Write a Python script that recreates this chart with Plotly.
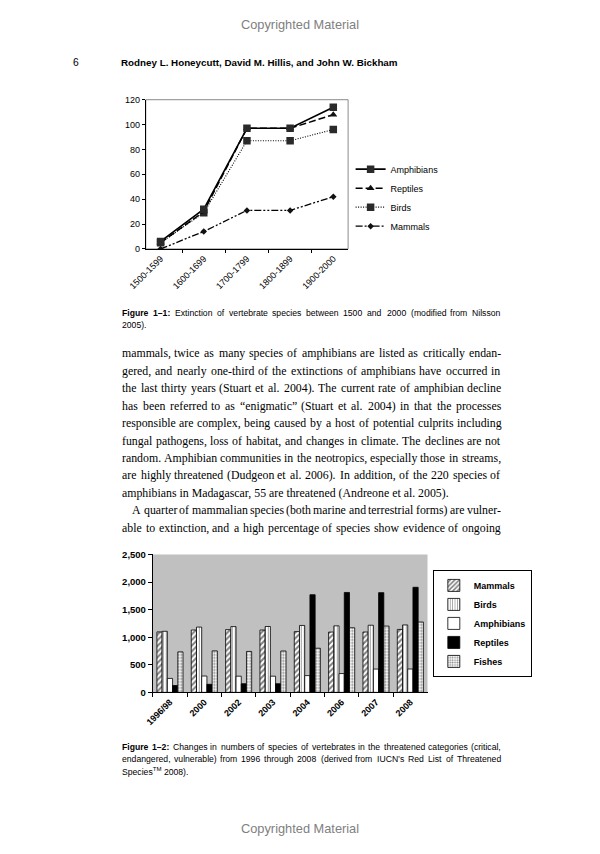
import plotly.graph_objects as go

W, H = 600, 854

# ---------------- data: Figure 1-1 ----------------
periods = ["1500-1599", "1600-1699", "1700-1799", "1800-1899", "1900-2000"]
amphibians_ext = [6, 32, 97, 97, 114]
reptiles_ext = [5, 30, 97, 97, 108]
birds_ext = [5, 29, 87, 87, 96]
mammals_ext = [0, 14, 31, 31, 42]

# ---------------- data: Figure 1-2 ----------------
years = ["1996/98", "2000", "2002", "2003", "2004", "2006", "2007", "2008"]
mammals_thr = [1096, 1130, 1137, 1130, 1101, 1093, 1094, 1141]
birds_thr = [1107, 1183, 1192, 1194, 1213, 1206, 1217, 1222]
amphibians_thr = [253, 296, 293, 293, 304, 341, 422, 423]
reptiles_thr = [124, 146, 157, 157, 1770, 1811, 1808, 1905]
fishes_thr = [734, 752, 742, 750, 800, 1171, 1201, 1275]

# ---------------- page text ----------------
header_text = "Rodney L. Honeycutt, David M. Hillis, and John W. Bickham"
caption1 = ["Figure 1–1: Extinction of vertebrate species between 1500 and 2000 (modified from Nilsson",
            "2005)."]
body_lines = [
    "mammals, twice as many species of amphibians are listed as critically endan-",
    "gered, and nearly one-third of the extinctions of amphibians have occurred in",
    "the last thirty years (Stuart et al. 2004). The current rate of amphibian decline",
    "has been referred to as “enigmatic” (Stuart et al. 2004) in that the processes",
    "responsible are complex, being caused by a host of potential culprits including",
    "fungal pathogens, loss of habitat, and changes in climate. The declines are not",
    "random. Amphibian communities in the neotropics, especially those in streams,",
    "are highly threatened (Dudgeon et al. 2006). In addition, of the 220 species of",
    "amphibians in Madagascar, 55 are threatened (Andreone et al. 2005).",
    "A quarter of mammalian species (both marine and terrestrial forms) are vulner-",
    "able to extinction, and a high percentage of species show evidence of ongoing",
]
caption2 = ["Figure 1–2: Changes in numbers of species of vertebrates in the threatened categories (critical,",
            "endangered, vulnerable) from 1996 through 2008 (derived from IUCN’s Red List of Threatened",
            "Species<sup>TM</sup> 2008)."]

# page-position -> figure-pixel mapping (measured from a calibration render)
SX, SY = 0.9675, 0.9877
FS = 1.03  # font compensation for the same scale


def gx(x):
    return 100 + (x - 115) / SX


def gy(y):
    return 100 + (y - 104) / SY


def px(x):
    return gx(x) / W


def py(y):
    return 1 - gy(y) / H


# ---------------- approximate font metrics (per 1000 em) ----------------
LOW = "abcdefghijklmnopqrstuvwxyz"
UP = "ABCDEFGHIJKLMNOPQRSTUVWXYZ"
TIMES = dict(zip(LOW, [444, 500, 444, 500, 444, 333, 500, 500, 278, 278, 500, 278, 778, 500, 500, 500, 500, 333, 389, 278, 500, 500, 722, 500, 500, 444]))
TIMES.update(zip(UP, [722, 667, 667, 722, 611, 556, 722, 722, 333, 389, 722, 611, 889, 722, 722, 556, 722, 667, 556, 611, 722, 722, 944, 722, 722, 611]))
TIMES.update({c: 500 for c in "0123456789"})
TIMES.update({" ": 250, ",": 250, ".": 250, "-": 333, "(": 333, ")": 333, ":": 278, ";": 278, "“": 444, "”": 444, "’": 333, "–": 500})

ARIAL = dict(zip(LOW, [556, 556, 500, 556, 556, 278, 556, 556, 222, 222, 500, 222, 833, 556, 556, 556, 556, 333, 500, 278, 556, 500, 722, 500, 500, 500]))
ARIAL.update(zip(UP, [667, 667, 722, 722, 667, 611, 778, 722, 278, 500, 667, 556, 833, 722, 778, 667, 778, 722, 667, 611, 722, 667, 944, 667, 667, 611]))
ARIAL.update({c: 556 for c in "0123456789"})
ARIAL.update({" ": 278, ",": 278, ".": 278, "-": 333, "(": 333, ")": 333, ":": 278, "’": 222, "–": 556})

ARIAL_B = dict(zip(LOW, [556, 611, 556, 611, 556, 333, 611, 611, 278, 278, 556, 278, 889, 611, 611, 611, 611, 389, 556, 333, 611, 556, 778, 556, 556, 500]))
ARIAL_B.update(zip(UP, [722, 722, 722, 722, 667, 611, 778, 722, 278, 556, 722, 611, 833, 722, 778, 667, 778, 722, 667, 611, 722, 667, 944, 667, 667, 611]))
ARIAL_B.update({c: 556 for c in "0123456789"})
ARIAL_B.update({" ": 278, ",": 278, ".": 278, "-": 333, ":": 333, "–": 556})


def tw(s, table, size):
    return sum(table.get(ch, 520) for ch in s) * size / 1000.0


SERIF = "Liberation Serif, Times New Roman, serif"
SANS = "Liberation Sans, Arial, sans-serif"

annotations = []


def ann(x, y, text, size, family=SANS, color="black", xanchor="left"):
    # x, y in figure pixels
    annotations.append(dict(x=x / W, y=1 - y / H, xref="paper", yref="paper", text=text,
                            showarrow=False, xanchor=xanchor, yanchor="middle", borderpad=0,
                            font=dict(family=family, size=size, color=color)))


def justified(tokens, x0, x1, y, size, family, table, btable=None):
    widths = [tw(w, btable if b else table, size) for w, b in tokens]
    gap = (x1 - x0 - sum(widths)) / (len(tokens) - 1)
    gap = max(gap, 0.2 * size)
    x = x0
    for (w, b), wd in zip(tokens, widths):
        ann(x, y, f"<b>{w}</b>" if b else w, size, family)
        x += wd + gap


LEFT, RIGHT = gx(121), gx(498)

# page furniture
ann(gx(300), gy(24), "Copyrighted Material", 12.8, color="#808080", xanchor="center")
ann(gx(72), gy(62), "6", 10 * FS)
ann(gx(120), gy(62), f"<b>{header_text}</b>", 9.8)

# caption 1
cap_size = 8.4 * FS
toks = [(w, i < 2) for i, w in enumerate(caption1[0].split(" "))]
justified(toks, LEFT, RIGHT, gy(312), cap_size, SANS, ARIAL, ARIAL_B)
ann(LEFT, gy(324), caption1[1], cap_size)

# body text
body_size = 11.5 * FS
for i, line in enumerate(body_lines):
    y = gy(352.5 + 17.5 * i)
    x0 = gx(131) if i == 9 else LEFT
    if i == 8:
        ann(x0, y, line, body_size, SERIF)
    else:
        justified([(w, False) for w in line.split(" ")], x0, RIGHT, y, body_size, SERIF, TIMES)

# caption 2
toks = [(w, i < 2) for i, w in enumerate(caption2[0].split(" "))]
justified(toks, LEFT, RIGHT, gy(747), cap_size, SANS, ARIAL, ARIAL_B)
justified([(w, False) for w in caption2[1].split(" ")], LEFT, RIGHT, gy(759), cap_size, SANS, ARIAL)
ann(LEFT, gy(771), caption2[2], cap_size)

ann(gx(300), gy(828), "Copyrighted Material", 12.8, color="#808080", xanchor="center")

# ---------------- figure ----------------
fig = go.Figure()

# Figure 1-1 lines (drawn bottom to top; legend order by rank)
fig.add_trace(go.Scatter(x=periods, y=mammals_ext, name="Mammals", mode="lines+markers", legendrank=4,
                         line=dict(color="black", width=1.3, dash="7px,2px,2px,2px,2px,2px"),
                         marker=dict(symbol="diamond", size=5, color="#111")))
fig.add_trace(go.Scatter(x=periods, y=birds_ext, name="Birds", mode="lines+markers", legendrank=3,
                         line=dict(color="black", width=1.1, dash="1px,1.5px"),
                         marker=dict(symbol="square", size=7.5, color="#2a2a2a")))
fig.add_trace(go.Scatter(x=periods, y=reptiles_ext, name="Reptiles", mode="lines+markers", legendrank=2,
                         line=dict(color="black", width=1.5, dash="7px,3px"),
                         marker=dict(symbol="triangle-up", size=7, color="#111")))
fig.add_trace(go.Scatter(x=periods, y=amphibians_ext, name="Amphibians", mode="lines+markers", legendrank=1,
                         line=dict(color="black", width=1.6),
                         marker=dict(symbol="square", size=7.5, color="#2a2a2a")))

# Figure 1-2 bars
edge = dict(color="black", width=0.8)
bar_specs = [
    ("Mammals", mammals_thr, dict(color="white", line=edge,
                                  pattern=dict(shape="/", fgcolor="black", bgcolor="white", size=4, solidity=0.5))),
    ("Birds", birds_thr, dict(color="white", line=edge,
                              pattern=dict(shape="|", fgcolor="black", bgcolor="white", size=3, solidity=0.25))),
    ("Amphibians", amphibians_thr, dict(color="white", line=edge)),
    ("Reptiles", reptiles_thr, dict(color="black", line=edge)),
    ("Fishes", fishes_thr, dict(color="white", line=edge,
                                pattern=dict(shape=".", fgcolor="black", bgcolor="white", size=3, solidity=0.4))),
]
for name, vals, mk in bar_specs:
    fig.add_trace(go.Bar(x=years, y=vals, name=name, marker=mk, xaxis="x2", yaxis="y2", legend="legend2"))

axis_common = dict(showgrid=False, zeroline=False, showline=True, linecolor="black", linewidth=1,
                   ticks="outside", tickcolor="black", tickwidth=1)

fig.update_layout(
    width=W, height=H, autosize=False, margin=dict(l=0, r=0, t=0, b=0, pad=0),
    paper_bgcolor="white", plot_bgcolor="white",
    font=dict(family=SANS, color="black"),
    barmode="group", bargap=0.24, bargroupgap=0,
    xaxis=dict(domain=[px(145.7), px(347.5)], anchor="y", type="category", tickson="boundaries",
               ticklen=3, tickangle=-45, tickfont=dict(size=9), **axis_common),
    yaxis=dict(domain=[py(248.3), py(99)], anchor="x", range=[0, 120], dtick=20, ticklen=3,
               tickfont=dict(size=9), **axis_common),
    xaxis2=dict(domain=[px(152.7), px(426.7)], anchor="y2", type="category", tickson="boundaries",
                ticklen=4, tickangle=-45, tickfont=dict(size=9, weight="bold"), **axis_common),
    yaxis2=dict(domain=[py(692), py(554)], anchor="x2", range=[0, 2500], dtick=500, tickformat=",",
                ticklen=4, tickfont=dict(size=9.5, weight="bold"), **axis_common),
    legend=dict(x=px(350), xanchor="left", y=py(197), yanchor="middle", font=dict(size=9),
                bgcolor="rgba(0,0,0,0)", borderwidth=0, itemwidth=30, tracegroupgap=0),
    legend2=dict(x=px(432), xanchor="left", y=py(623), yanchor="middle", font=dict(size=9, weight="bold"),
                 bgcolor="white", bordercolor="black", borderwidth=1, itemwidth=30, tracegroupgap=0),
    shapes=[
        dict(type="rect", xref="x domain", yref="y domain", x0=0, x1=1, y0=0, y1=1,
             line=dict(color="#8a8a8a", width=1), layer="below"),
        dict(type="rect", xref="x2 domain", yref="y2 domain", x0=0, x1=1, y0=0, y1=1,
             fillcolor="#c0c0c0", line=dict(width=0), layer="below"),
    ],
    annotations=annotations,
)

page_css = ("document.documentElement.style.margin='0';document.documentElement.style.overflow='hidden';"
            "document.body.style.margin='0';document.body.style.padding='0';document.body.style.overflow='hidden';")

fig.write_html("out.html", config={"displayModeBar": False, "responsive": False}, post_script=page_css)
